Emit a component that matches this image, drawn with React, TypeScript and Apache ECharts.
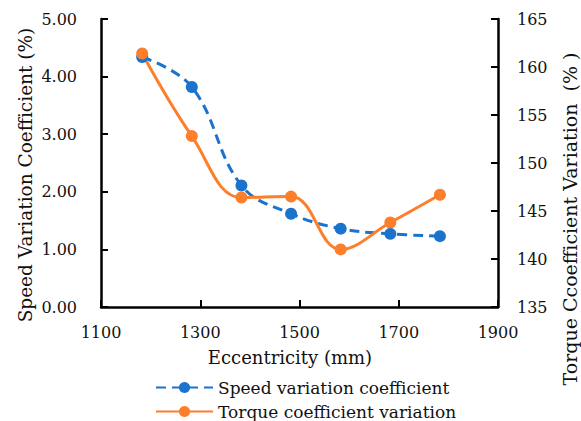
import React, { useEffect, useRef } from "react";
import * as echarts from "echarts";

const eccentricity = [1183, 1283, 1383, 1483, 1583, 1683, 1783];
const speedVariation = [4.34, 3.82, 2.11, 1.62, 1.36, 1.27, 1.23];
const torqueVariation = [161.4, 152.8, 146.4, 146.5, 141.0, 143.8, 146.7];
const speedName = "Speed variation coefficient";
const torqueName = "Torque coefficient variation";
const xTitle = "Eccentricity (mm)";
const yLeftTitle = "Speed Variation Coefficient (%)";
const yRightTitle = "Torque Ccoefficient Variation  (% )";

const FONT = "DejaVu Serif";
const BLUE = "#1a73cc";
const ORANGE = "#fe7f2b";

export default function App() {
  const ref = useRef<HTMLDivElement>(null);
  useEffect(() => {
    if (!ref.current) return;
    const chart = echarts.init(ref.current, undefined, { renderer: "svg" });
    const axisCommon = {
      axisLine: { show: true, lineStyle: { color: "#000", width: 2.5 } },
      axisTick: { show: true, inside: true, length: 7, lineStyle: { color: "#000", width: 2 } },
      splitLine: { show: false },
      axisLabel: { color: "#111", fontFamily: FONT, fontSize: 16 },
    };
    const legendCommon = {
      orient: "horizontal",
      left: 155,
      padding: 0,
      itemWidth: 57,
      itemHeight: 14,
      textStyle: { fontFamily: FONT, fontSize: 17, color: "#111", lineHeight: 21 },
    };
    chart.setOption({
      animation: false,
      backgroundColor: "#fff",
      grid: { left: 101, right: 83, top: 19, bottom: 114 },
      xAxis: {
        type: "value",
        min: 1100,
        max: 1900,
        interval: 200,
        ...axisCommon,
        axisLabel: { ...axisCommon.axisLabel, margin: 17, formatter: (v: number) => String(v) },
      },
      yAxis: [
        {
          type: "value",
          min: 0,
          max: 5,
          interval: 1,
          position: "left",
          ...axisCommon,
          axisLabel: { ...axisCommon.axisLabel, margin: 24, formatter: (v: number) => v.toFixed(2) },
        },
        {
          type: "value",
          min: 135,
          max: 165,
          interval: 5,
          position: "right",
          ...axisCommon,
          axisLabel: { ...axisCommon.axisLabel, margin: 19, formatter: (v: number) => String(v) },
        },
      ],
      legend: [
        { ...legendCommon, top: 377, data: [speedName] },
        { ...legendCommon, top: 401, data: [torqueName] },
      ],
      series: [
        {
          name: speedName,
          type: "line",
          yAxisIndex: 0,
          smooth: 0.4,
          data: eccentricity.map((x, i) => [x, speedVariation[i]]),
          symbol: "circle",
          symbolSize: 12,
          lineStyle: { color: BLUE, width: 3, type: [10, 6] },
          itemStyle: { color: BLUE },
        },
        {
          name: torqueName,
          type: "line",
          yAxisIndex: 1,
          smooth: 0.4,
          data: eccentricity.map((x, i) => [x, torqueVariation[i]]),
          symbol: "circle",
          symbolSize: 12,
          lineStyle: { color: ORANGE, width: 3 },
          itemStyle: { color: ORANGE },
        },
      ],
      graphic: [
        {
          type: "text",
          x: 290,
          y: 357,
          style: { text: xTitle, fontFamily: FONT, fontSize: 18, fill: "#111", align: "center", verticalAlign: "middle", textAlign: "center", textVerticalAlign: "middle" },
        },
        {
          type: "text",
          x: 25,
          y: 175,
          rotation: Math.PI / 2,
          style: { text: yLeftTitle, fontFamily: FONT, fontSize: 18.5, fill: "#111", align: "center", verticalAlign: "middle", textAlign: "center", textVerticalAlign: "middle" },
        },
        {
          type: "text",
          x: 570,
          y: 219,
          rotation: Math.PI / 2,
          style: { text: yRightTitle, fontFamily: FONT, fontSize: 19, fill: "#111", align: "center", verticalAlign: "middle", textAlign: "center", textVerticalAlign: "middle" },
        },
      ],
    });
    return () => chart.dispose();
  }, []);
  return (
    <div
      ref={ref}
      style={{ position: "fixed", left: 0, top: 0, width: 581, height: 421 }}
    />
  );
}
